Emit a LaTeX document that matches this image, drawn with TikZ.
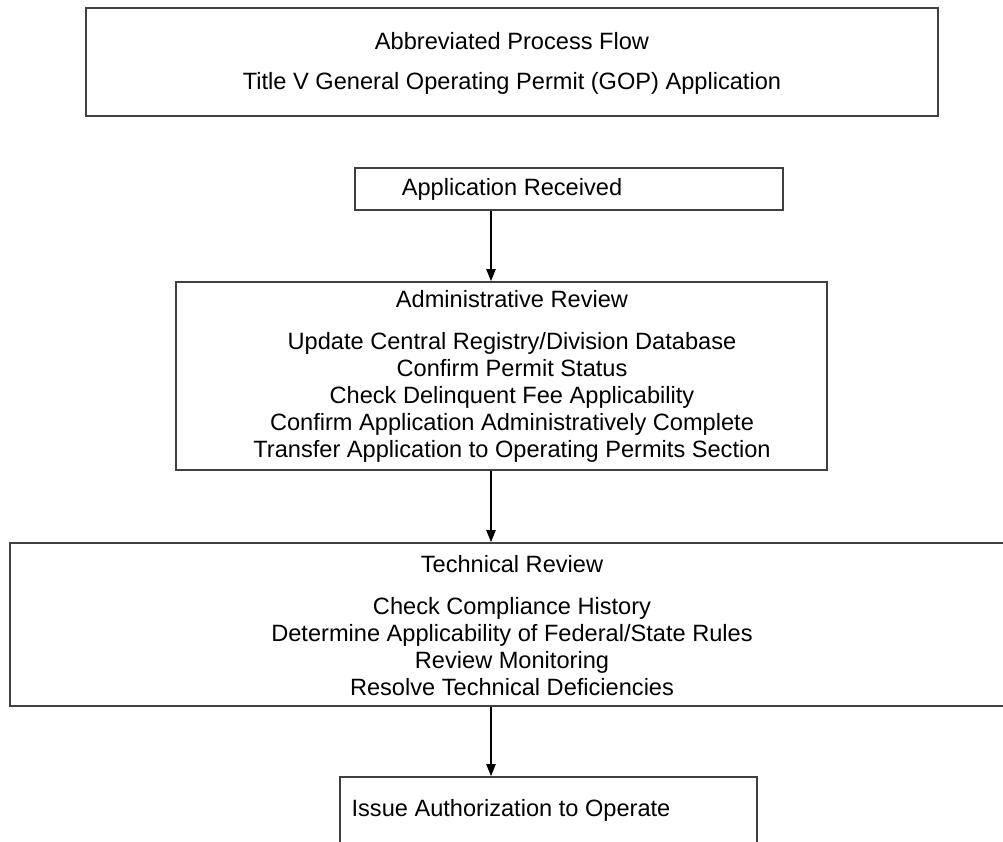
\documentclass[tikz,border=0pt]{standalone}
\usepackage{fontspec}
\setmainfont{Liberation Sans}
\usepackage{tikz}
\usetikzlibrary{arrows.meta}
\newcommand{\flowfont}{\fontsize{17.7}{20.25}\selectfont}
\newcommand{\flowbox}{\node[rectangle,draw=black!75,line width=1.3pt,inner sep=0pt]}
\newcommand{\txtnode}{\node[align=center,font=\flowfont,inner sep=0pt]}

\begin{document}
\begin{tikzpicture}[x=0.75pt,y=-0.75pt]
      \useasboundingbox (0,0) rectangle (1003,842);
      \clip (0,0) rectangle (1003,842);
      %%%% boxes (sizes in pt)
      \flowbox[minimum width=639pt,minimum height=81pt] (title) at (512,62) {}; % heading
      \flowbox[minimum width=321pt,minimum height=31.5pt] (recv) at (569,189) {}; % received
      \flowbox[minimum width=488.25pt,minimum height=141pt] (admin) at (501.5,376) {}; % admin review
      \flowbox[minimum width=750pt,minimum height=122.25pt] (tech) at (510,624.5) {}; % technical review
      \flowbox[minimum width=312.75pt,minimum height=90pt] (issue) at (548.5,837) {}; % authorization
      %%%% texts
      \txtnode (titletxt) at (512,63) {Abbreviated Process Flow\\[9.75pt]
        Title V General Operating Permit (GOP) Application};
      \txtnode (recvtxt) at (512,189) {Application Received};
      \txtnode (admintxt) at (512,376) {Administrative Review\\[11.25pt]
        Update Central Registry/Division Database\\
        Confirm Permit Status\\
        Check Delinquent Fee Applicability\\
        Confirm Application Administratively Complete\\
        Transfer Application to Operating Permits Section};
      \txtnode (techtxt) at (512,625.5) {Technical Review\\[11.25pt]
        Check Compliance History\\
        Determine Applicability of Federal/State Rules\\
        Review Monitoring\\
        Resolve Technical Deficiencies};
      \txtnode (issuetxt) at (511,810) {Issue Authorization to Operate};
      %%%% graph links
      \coordinate (ax) at (491,0);
      \draw[-{Triangle[length=9pt,width=7pt]},line width=0.8pt] (recv.south -| ax) -- (admin.north -| ax);
      \draw[-{Triangle[length=9pt,width=7pt]},line width=0.8pt] (admin.south -| ax) -- (tech.north -| ax);
      \draw[-{Triangle[length=9pt,width=7pt]},line width=0.8pt] (tech.south -| ax) -- (issue.north -| ax);
\end{tikzpicture}
\end{document}
